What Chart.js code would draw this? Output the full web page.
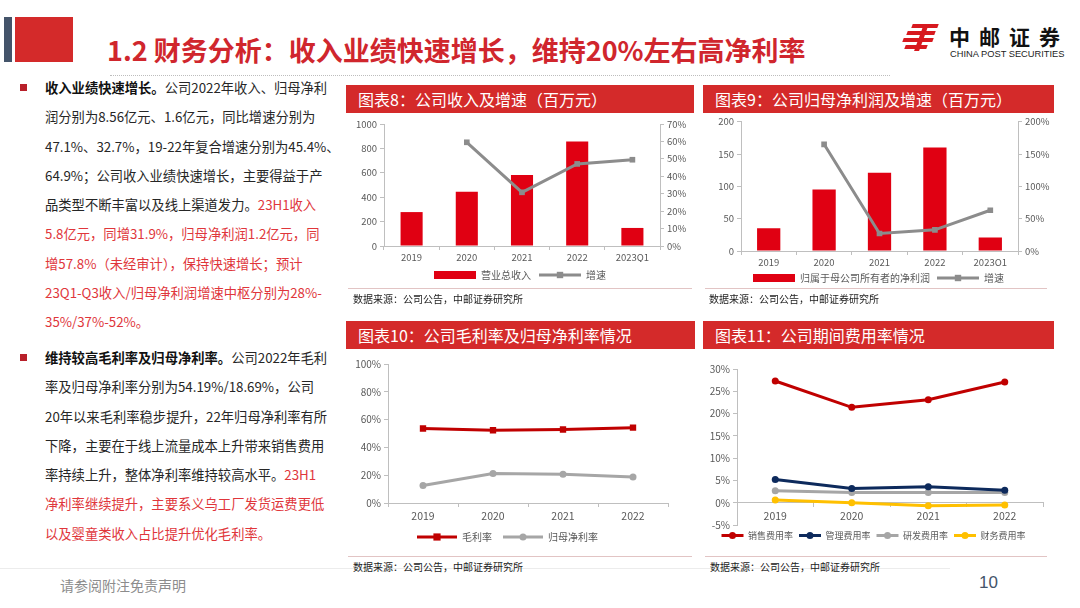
<!DOCTYPE html>
<html>
<head>
<meta charset="utf-8">
<script src="https://cdn.jsdelivr.net/npm/chart.js@4.4.0/dist/chart.umd.min.js"></script>
<style>
  html, body { margin: 0; padding: 0; }
  body { width: 1080px; height: 608px; position: relative; overflow: hidden; background: #fff;
         font-family: "Noto Sans CJK SC", "Noto Sans", sans-serif; }
  .abs { position: absolute; }
  .hdr { position: absolute; height: 28px; background: #d42a2a; color: #fff; font-size: 16px;
         line-height: 28px; padding-left: 12px; box-sizing: border-box; white-space: nowrap; }
  .src { position: absolute; font-size: 10px; color: #222; white-space: nowrap; }
  .rule { position: absolute; height: 1px; background: #e2c4c4; }
  .box { position: absolute; }
  .txt { position: absolute; left: 45px; width: 300px; font-size: 13.3px; line-height: 29.3px; color: #262626; white-space: nowrap; }
  .txt b { font-weight: bold; color: #111; }
  .red { color: #e0363b; }
  .bullet { position: absolute; left: 20px; width: 7px; height: 7px; background: #b8202a; }
</style>
</head>
<body>
<!-- title band -->
<div class="abs" style="left:4px;top:17px;width:8px;height:45px;background:#44546a;"></div>
<div class="abs" style="left:15px;top:17px;width:58px;height:45px;background:#d42a2a;"></div>
<div class="abs" style="left:107px;top:30px;font-size:27px;font-weight:bold;color:#d0262d;white-space:nowrap;letter-spacing:0px;">1.2 财务分析：收入业绩快速增长，维持20%左右高净利率</div>
<div class="abs" style="left:110px;top:75px;width:780px;border-top:1px dotted #bdbdbd;"></div>

<!-- logo -->
<div class="abs" style="left:912px;top:24px;width:26px;height:4px;background:#d7191f;transform:skewX(-20deg);"></div>
<div class="abs" style="left:907px;top:31px;width:28px;height:4px;background:#d7191f;transform:skewX(-20deg);"></div>
<div class="abs" style="left:903px;top:38px;width:30px;height:4px;background:#d7191f;transform:skewX(-20deg);"></div>
<div class="abs" style="left:905px;top:45px;width:22px;height:4px;background:#d7191f;transform:skewX(-20deg);"></div>
<div class="abs" style="left:919px;top:24px;width:5px;height:27px;background:#d7191f;transform:skewX(-20deg);"></div>
<div class="abs" style="left:949px;top:21px;font-size:21px;font-weight:bold;color:#111;letter-spacing:9px;white-space:nowrap;">中邮证券</div>
<div class="abs" style="left:950px;top:49px;font-size:9.3px;color:#222;white-space:nowrap;font-family:'Liberation Sans',sans-serif;">CHINA POST SECURITIES</div>

<!-- left text -->
<div class="bullet" style="top:84px;"></div>
<div class="txt" style="top:73px;">
<b>收入业绩快速增长。</b>公司2022年收入、归母净利<br>
润分别为8.56亿元、1.6亿元，同比增速分别为<br>
47.1%、32.7%，19-22年复合增速分别为45.4%、<br>
64.9%；公司收入业绩快速增长，主要得益于产<br>
品类型不断丰富以及线上渠道发力。<span class="red">23H1收入</span><br>
<span class="red">5.8亿元，同增31.9%，归母净利润1.2亿元，同</span><br>
<span class="red">增57.8%（未经审计），保持快速增长；预计</span><br>
<span class="red">23Q1-Q3收入/归母净利润增速中枢分别为28%-</span><br>
<span class="red">35%/37%-52%。</span>
</div>
<div class="bullet" style="top:354px;"></div>
<div class="txt" style="top:343px;">
<b>维持较高毛利率及归母净利率。</b>公司2022年毛利<br>
率及归母净利率分别为54.19%/18.69%，公司<br>
20年以来毛利率稳步提升，22年归母净利率有所<br>
下降，主要在于线上流量成本上升带来销售费用<br>
率持续上升，整体净利率维持较高水平。<span class="red">23H1</span><br>
<span class="red">净利率继续提升，主要系义乌工厂发货运费更低</span><br>
<span class="red">以及婴童类收入占比提升优化毛利率。</span>
</div>
<div class="abs" style="left:0;top:568px;width:950px;height:1px;background:#ececec;"></div>
<div class="abs" style="left:60px;top:575px;font-size:14px;color:#8c8c8c;white-space:nowrap;">请参阅附注免责声明</div>
<div class="abs" style="left:979px;top:573px;font-size:17px;color:#44546a;font-family:'Liberation Sans',sans-serif;">10</div>

<!-- chart panels -->
<div class="hdr" style="left:346px;top:85px;width:348px;">图表8：公司收入及增速（百万元）</div>
<div class="box" style="left:346px;top:113px;width:348px;height:177px;"><canvas id="c8"></canvas></div>
<div class="rule" style="left:348px;top:288px;width:344px;"></div>
<div class="src" style="left:353px;top:291px;">数据来源：公司公告，中邮证券研究所</div>

<div class="hdr" style="left:703px;top:85px;width:351px;">图表9：公司归母净利润及增速（百万元）</div>
<div class="box" style="left:703px;top:113px;width:351px;height:180px;"><canvas id="c9"></canvas></div>
<div class="rule" style="left:705px;top:288px;width:342px;"></div>
<div class="src" style="left:709px;top:291px;">数据来源：公司公告，中邮证券研究所</div>

<div class="hdr" style="left:346px;top:321px;width:349px;">图表10：公司毛利率及归母净利率情况</div>
<div class="box" style="left:347px;top:349px;width:348px;height:207px;"><canvas id="c10"></canvas></div>
<div class="rule" style="left:348px;top:556px;width:344px;"></div>
<div class="src" style="left:353px;top:559px;">数据来源：公司公告，中邮证券研究所</div>

<div class="hdr" style="left:703px;top:321px;width:351px;">图表11：公司期间费用率情况</div>
<div class="box" style="left:704px;top:349px;width:350px;height:207px;"><canvas id="c11"></canvas></div>
<div class="rule" style="left:705px;top:556px;width:342px;"></div>
<div class="src" style="left:710px;top:559px;">数据来源：公司公告，中邮证券研究所</div>

<script>
(function () {
  'use strict';

  // ---- data ----
  var years5 = ['2019', '2020', '2021', '2022', '2023Q1'];
  var years4 = ['2019', '2020', '2021', '2022'];

  var revenue = [278, 445, 582, 856, 148];          // 营业总收入 (百万元)
  var revenueGrowth = [null, 59.5, 30.8, 47.1, 49.5]; // 增速 %

  var netProfit = [35, 95, 121, 160, 21];           // 归属于母公司所有者的净利润
  var profitGrowth = [null, 165, 27, 32.7, 63];      // 增速 %

  var grossMargin = [53.6, 52.3, 52.9, 54.19];      // 毛利率 %
  var netMargin = [12.6, 21.2, 20.7, 18.69];        // 归母净利率 %

  var sellRate = [27.3, 21.4, 23.1, 27.1];          // 销售费用率 %
  var adminRate = [5.2, 3.2, 3.6, 2.8];             // 管理费用率 %
  var rdRate = [2.7, 2.3, 2.3, 2.3];                // 研发费用率 %
  var finRate = [0.6, 0.0, -0.7, -0.5];             // 财务费用率 %

  var RED_BAR = '#e00012';
  var GREY_LINE = '#8c8c8c';
  var TICK = '#595959';
  var AXIS = '#bfbfbf';
  var FONT = '"Noto Sans CJK SC", "Noto Sans", sans-serif';

  Chart.defaults.font.family = FONT;
  Chart.defaults.color = TICK;
  Chart.defaults.animation = false;

  // legend: bars as wide boxes, lines as short strokes with their marker on top
  function legendItems(chart) {
    var items = Chart.defaults.plugins.legend.labels.generateLabels(chart);
    items.forEach(function (it) {
      var ds = chart.data.datasets[it.datasetIndex];
      var isLine = ds.type === 'line' || (!ds.type && chart.config.type === 'line');
      if (isLine) {
        it.pointStyle = 'line';
        it.strokeStyle = ds.borderColor;
        it.lineWidth = 3;
      } else {
        it.pointStyle = 'rect';
        it.lineWidth = 0;
      }
    });
    return items;
  }

  var legendMarker = {
    id: 'legendMarker',
    afterDraw: function (chart) {
      var lg = chart.legend;
      if (!lg || !lg.legendHitBoxes || !lg.options.display) return;
      var ctx = chart.ctx;
      var w = lg.options.labels.pointStyleWidth;
      var fs = lg.options.labels.font.size;
      lg.legendItems.forEach(function (it, i) {
        var ds = chart.data.datasets[it.datasetIndex];
        if (it.pointStyle !== 'line') return;
        var hb = lg.legendHitBoxes[i];
        var x = hb.left + w / 2;
        var y = hb.top + fs / 2;
        var r = ds.pointRadius;
        ctx.save();
        ctx.fillStyle = ds.pointBackgroundColor || ds.borderColor;
        ctx.beginPath();
        if (ds.pointStyle === 'rect') {
          ctx.rect(x - r * 0.8, y - r * 0.8, r * 1.6, r * 1.6);
        } else {
          ctx.arc(x, y, r, 0, Math.PI * 2);
        }
        ctx.fill();
        ctx.restore();
      });
    }
  };

  function legendOpts(width, pad, size) {
    return {
      position: 'bottom',
      labels: {
        usePointStyle: true,
        pointStyleWidth: width,
        boxHeight: 8,
        padding: pad,
        color: TICK,
        font: { size: size || 10 },
        sort: function (a, b) { return a.datasetIndex - b.datasetIndex; },
        generateLabels: legendItems
      }
    };
  }

  function fixW(w) { return function (s) { s.width = w; }; }
  function fixH(h) { return function (s) { s.height = h; }; }

  function axisY(min, max, step, width, fmt, pos) {
    return {
      position: pos || 'left',
      min: min, max: max,
      afterFit: fixW(width),
      border: { display: true, color: AXIS },
      grid: { drawOnChartArea: false, tickLength: 4, color: AXIS },
      ticks: { stepSize: step, font: { size: 9.5 }, color: TICK, padding: 3, callback: fmt }
    };
  }

  function axisX(height) {
    return {
      offset: true,
      afterFit: fixH(height),
      border: { display: true, color: AXIS },
      grid: { drawOnChartArea: false, offset: true, tickLength: 4, color: AXIS },
      ticks: { font: { size: 9.5 }, color: TICK, padding: 2 }
    };
  }

  function num(v) { return v; }
  function pct(v) { return v + '%'; }

  // 图表8
  new Chart(document.getElementById('c8').getContext('2d'), {
    type: 'bar',
    data: {
      labels: years5,
      datasets: [
        { type: 'bar', label: '营业总收入', data: revenue, backgroundColor: RED_BAR,
          barPercentage: 0.4, categoryPercentage: 1, yAxisID: 'y', order: 2 },
        { type: 'line', label: '增速', data: revenueGrowth, borderColor: GREY_LINE, borderWidth: 3,
          pointStyle: 'rect', pointRadius: 4, pointBackgroundColor: GREY_LINE, pointBorderWidth: 0,
          yAxisID: 'y1', order: 1 }
      ]
    },
    options: {
      maintainAspectRatio: false,
      layout: { padding: { top: 11, bottom: 0 } },
      scales: {
        x: axisX(16),
        y: axisY(0, 1000, 200, 38, num),
        y1: axisY(0, 70, 10, 34, pct, 'right')
      },
      plugins: { legend: legendOpts(42, 8), tooltip: { enabled: false } }
    },
    plugins: [legendMarker]
  });

  // 图表9
  new Chart(document.getElementById('c9').getContext('2d'), {
    type: 'bar',
    data: {
      labels: years5,
      datasets: [
        { type: 'bar', label: '归属于母公司所有者的净利润', data: netProfit, backgroundColor: RED_BAR,
          barPercentage: 0.42, categoryPercentage: 1, yAxisID: 'y', order: 2 },
        { type: 'line', label: '增速', data: profitGrowth, borderColor: GREY_LINE, borderWidth: 3,
          pointStyle: 'rect', pointRadius: 4, pointBackgroundColor: GREY_LINE, pointBorderWidth: 0,
          yAxisID: 'y1', order: 1 }
      ]
    },
    options: {
      maintainAspectRatio: false,
      layout: { padding: { top: 8, bottom: 0 } },
      scales: {
        x: axisX(15),
        y: axisY(0, 200, 50, 38, num),
        y1: axisY(0, 200, 50, 36, pct, 'right')
      },
      plugins: { legend: legendOpts(42, 7), tooltip: { enabled: false } }
    },
    plugins: [legendMarker]
  });

  // 图表10
  var y10 = axisY(0, 100, 10, 41, pct);
  y10.ticks.font = { size: 10 };
  var x10 = axisX(18);
  x10.ticks.font = { size: 10.5 };
  x10.ticks.padding = 3;
  new Chart(document.getElementById('c10').getContext('2d'), {
    type: 'line',
    data: {
      labels: years4,
      datasets: [
        { label: '毛利率', data: grossMargin, borderColor: '#c00000', borderWidth: 3,
          pointStyle: 'rect', pointRadius: 4.5, pointBackgroundColor: '#c00000', pointBorderWidth: 0 },
        { label: '归母净利率', data: netMargin, borderColor: '#a6a6a6', borderWidth: 3,
          pointStyle: 'circle', pointRadius: 3.5, pointBackgroundColor: '#a6a6a6', pointBorderWidth: 0 }
      ]
    },
    options: {
      maintainAspectRatio: false,
      layout: { padding: { top: 15, right: 27, bottom: 4 } },
      scales: { x: x10, y: y10 },
      plugins: { legend: legendOpts(40, 11), tooltip: { enabled: false } }
    },
    plugins: [legendMarker]
  });

  // 图表11
  var y11 = axisY(-5, 30, 5, 33, pct);
  y11.ticks.font = { size: 10 };
  var x11 = axisX(16);
  x11.position = { y: 0 };
  x11.ticks.font = { size: 10.5 };
  x11.ticks.padding = 3;
  function rateLine(label, data, color) {
    return { label: label, data: data, borderColor: color, borderWidth: 3,
      pointStyle: 'circle', pointRadius: 3.5, pointBackgroundColor: color, pointBorderWidth: 0 };
  }
  new Chart(document.getElementById('c11').getContext('2d'), {
    type: 'line',
    data: {
      labels: years4,
      datasets: [
        rateLine('销售费用率', sellRate, '#c00000'),
        rateLine('管理费用率', adminRate, '#0d2a5c'),
        rateLine('研发费用率', rdRate, '#a6a6a6'),
        rateLine('财务费用率', finRate, '#ffc000')
      ]
    },
    options: {
      maintainAspectRatio: false,
      layout: { padding: { top: 20, right: 11, bottom: 6 } },
      scales: { x: x11, y: y11 },
      plugins: { legend: legendOpts(22, 6, 9), tooltip: { enabled: false } }
    },
    plugins: [legendMarker]
  });
})();
</script>
</body>
</html>
